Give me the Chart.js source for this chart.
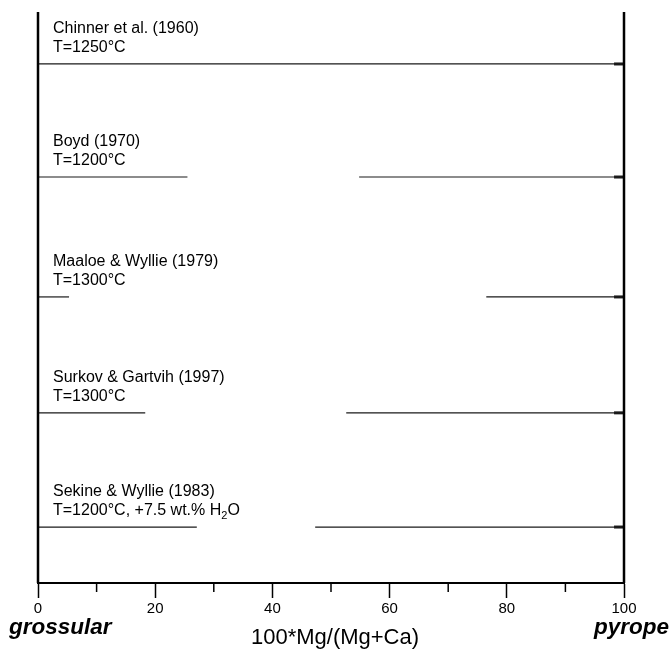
<!DOCTYPE html>
<html>
<head>
<meta charset="utf-8">
<script src="https://cdn.jsdelivr.net/npm/chart.js@4.4.1/dist/chart.umd.min.js"></script>
<style>
    html, body { margin: 0; padding: 0; background: #fff; }
    canvas { display: block; }
</style>
</head>
<body>
<canvas id="chart" width="670" height="651"></canvas>
<script>
// one row per study
const studies = ['Chinner et al. (1960)', 'Boyd (1970)', 'Maaloe & Wyllie (1979)', 'Surkov & Gartvih (1997)', 'Sekine & Wyllie (1983)'];
const conditions = ['T=1250°C', 'T=1200°C', 'T=1300°C', 'T=1300°C', 'T=1200°C, +7.5 wt.% H_2O'];
const rowLevel = [90.9, 71.1, 50.1, 29.8, 9.8];
// solid solution from grossular side reaches this value, and from the pyrope side starts here
const grossularEnd = [100, 25.5, 5.3, 18.3, 27.1];
const pyropeStart = [null, 54.8, 76.5, 52.6, 47.3];
const markStart = 98.3;
const xTicks = [0, 20, 40, 60, 80, 100];

const FONT = '"Liberation Sans", Arial, Helvetica, sans-serif';

function segment(x0, x1, y, width) {
    return {
        data: [{ x: x0, y }, { x: x1, y }],
        borderColor: '#1a1a1a',
        borderWidth: width,
        pointRadius: 0,
        fill: false,
    };
}

const datasets = [];
rowLevel.forEach((y, i) => {
    datasets.push(segment(0, grossularEnd[i], y, 1.2));
    if (pyropeStart[i] !== null) datasets.push(segment(pyropeStart[i], 100, y, 1.2));
    datasets.push(segment(markStart, 100, y, 3));
});

// draws "H_2O" style text with a lowered subscript
function drawRich(ctx, text, x, y, size) {
    const parts = text.split('_');
    ctx.font = `${size}px ${FONT}`;
    ctx.fillText(parts[0], x, y);
    if (parts.length < 2) return;
    x += ctx.measureText(parts[0]).width;
    const sub = parts[1].charAt(0);
    ctx.font = `${Math.round(size * 0.7)}px ${FONT}`;
    ctx.fillText(sub, x, y + size * 0.3);
    x += ctx.measureText(sub).width;
    ctx.font = `${size}px ${FONT}`;
    ctx.fillText(parts[1].slice(1), x, y);
}

const decorations = {
    id: 'decorations',
    afterDraw(chart) {
        const { ctx, chartArea, scales } = chart;
        const xs = scales.x;
        const ys = scales.y;
        ctx.save();
        ctx.strokeStyle = '#000';

        // side axes
        ctx.lineWidth = 2.5;
        [0, 100].forEach((v) => {
            const px = xs.getPixelForValue(v);
            ctx.beginPath();
            ctx.moveTo(px, chartArea.top);
            ctx.lineTo(px, chartArea.bottom);
            ctx.stroke();
        });

        // minor ticks
        ctx.lineWidth = 1.5;
        for (let v = 10; v < 100; v += 20) {
            const px = xs.getPixelForValue(v);
            ctx.beginPath();
            ctx.moveTo(px, chartArea.bottom);
            ctx.lineTo(px, chartArea.bottom + 9);
            ctx.stroke();
        }

        // row labels
        ctx.fillStyle = '#000';
        ctx.textBaseline = 'middle';
        ctx.textAlign = 'left';
        const lx = xs.getPixelForValue(0) + 15;
        rowLevel.forEach((v, i) => {
            const py = ys.getPixelForValue(v);
            ctx.font = `16px ${FONT}`;
            ctx.fillText(studies[i], lx, py - 35);
            drawRich(ctx, conditions[i], lx, py - 16, 16);
        });

        // end members and axis title
        ctx.font = `italic bold 22.5px ${FONT}`;
        ctx.textAlign = 'left';
        ctx.fillText('grossular', 9, 628);
        ctx.textAlign = 'right';
        ctx.fillText('pyrope', 669, 628);
        ctx.font = `22px ${FONT}`;
        ctx.textAlign = 'center';
        ctx.fillText('100*Mg/(Mg+Ca)', (xs.left + xs.right) / 2 + 4, 638);
        ctx.restore();
    },
};

new Chart(document.getElementById('chart'), {
    type: 'line',
    data: { datasets },
    options: {
        responsive: false,
        animation: false,
        layout: { padding: { left: 38, right: 46, top: 12, bottom: 0 } },
        plugins: { legend: { display: false }, tooltip: { enabled: false } },
        scales: {
            x: {
                type: 'linear',
                min: 0,
                max: 100,
                afterBuildTicks: (scale) => {
                    scale.ticks = xTicks.map((value) => ({ value }));
                },
                afterFit: (scale) => { scale.height = 68; },
                ticks: { color: '#000', font: { size: 15, family: FONT }, padding: 2, maxRotation: 0 },
                grid: { drawOnChartArea: false, tickLength: 15, tickColor: '#000', tickWidth: 1.5 },
                border: { color: '#000', width: 2 },
            },
            y: { type: 'linear', min: 0, max: 100, display: false },
        },
    },
    plugins: [decorations],
});
</script>
</body>
</html>
